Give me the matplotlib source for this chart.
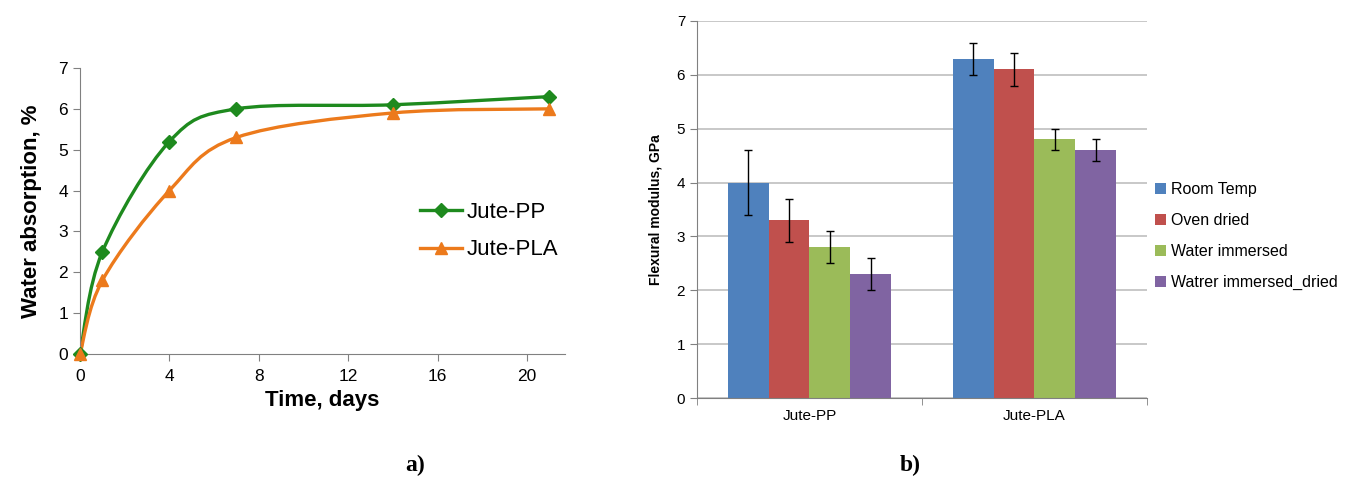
import numpy as np
import matplotlib
matplotlib.use('Agg')
import matplotlib.pyplot as plt
from matplotlib.path import Path
from matplotlib.patches import PathPatch
from matplotlib.lines import Line2D

plt.rcParams['font.family'] = ['Liberation Sans', 'DejaVu Sans']

# data - left chart (water absorption)
days = [0, 1, 4, 7, 14, 21]
jute_pp = [0, 2.5, 5.2, 6.0, 6.1, 6.3]
jute_pla = [0, 1.8, 4.0, 5.3, 5.9, 6.0]

# data - right chart (flexural modulus)
groups = ['Jute-PP', 'Jute-PLA']
conditions = ['Room Temp', 'Oven dried', 'Water immersed', 'Watrer immersed_dried']
modulus = [[4.0, 6.3], [3.3, 6.1], [2.8, 4.8], [2.3, 4.6]]
modulus_err = [[0.6, 0.3], [0.4, 0.3], [0.3, 0.2], [0.3, 0.2]]
bar_colors = ['#4F81BD', '#C0504D', '#9BBB59', '#8064A2']

green = '#1E8A1E'
orange = '#EC7A1C'


def smooth_path(x, y):
    # excel style smoothed line: cubic bezier through the points
    x = np.asarray(x, float)
    y = np.asarray(y, float)
    verts = [(x[0], y[0])]
    codes = [Path.MOVETO]
    n = len(x)
    for i in range(n - 1):
        i0 = max(i - 1, 0)
        i3 = min(i + 2, n - 1)
        c1 = (x[i] + (x[i + 1] - x[i0]) / 6, y[i] + (y[i + 1] - y[i0]) / 6)
        c2 = (x[i + 1] - (x[i3] - x[i]) / 6, y[i + 1] - (y[i3] - y[i]) / 6)
        verts += [c1, c2, (x[i + 1], y[i + 1])]
        codes += [Path.CURVE4] * 3
    return Path(verts, codes)


fig = plt.figure(figsize=(13.5, 4.8), dpi=100)

# ---- a) ----
ax1 = fig.add_axes([80 / 1350, 126 / 480, 485 / 1350, 286 / 480])
for yv, col, mk, lab in [(jute_pp, green, 'D', 'Jute-PP'), (jute_pla, orange, '^', 'Jute-PLA')]:
    ax1.add_patch(PathPatch(smooth_path(days, yv), fill=False, edgecolor=col, lw=2.4, zorder=2))
    ax1.plot(days, yv, ls='none', marker=mk, color=col, ms=7 if mk == 'D' else 8, zorder=3,
             clip_on=False)
ax1.set_xlim(0, 21.7)
ax1.set_ylim(0, 7)
ax1.set_xticks([0, 4, 8, 12, 16, 20])
ax1.set_yticks(range(8))
for s in ['top', 'right']:
    ax1.spines[s].set_visible(False)
for s in ['left', 'bottom']:
    ax1.spines[s].set_color('#808080')
ax1.tick_params(direction='out', length=5, color='#808080', labelsize=12.5)
ax1.tick_params(axis='x', pad=6)
ax1.set_xlabel('Time, days', fontsize=16, fontweight='bold', labelpad=4)
ax1.set_ylabel('Water absorption, %', fontsize=16, fontweight='bold', labelpad=12)
handles = [Line2D([], [], color=green, lw=2.4, marker='D', ms=7),
           Line2D([], [], color=orange, lw=2.4, marker='^', ms=8)]
ax1.legend(handles, ['Jute-PP', 'Jute-PLA'], loc='center left', bbox_to_anchor=(0.66, 0.43),
           frameon=False, fontsize=16, handlelength=1.9, handletextpad=0.2, labelspacing=0.75)

# ---- b) ----
ax2 = fig.add_axes([697 / 1350, 82 / 480, 450 / 1350, 377 / 480])
x = np.arange(len(groups))
w = 0.181
for i, cond in enumerate(conditions):
    ax2.bar(x + (i - 1.5) * w, modulus[i], w, color=bar_colors[i], label=cond,
            yerr=modulus_err[i], error_kw=dict(ecolor='black', elinewidth=1, capsize=3, capthick=1),
            zorder=2)
ax2.set_xlim(-0.5, 1.5)
ax2.set_ylim(0, 7)
ax2.set_yticks(range(8))
ax2.yaxis.grid(True, color='#BFBFBF', lw=1.2, zorder=0)
ax2.set_axisbelow(True)
ax2.set_xticks(x)
ax2.set_xticks([-0.5, 0.5, 1.5], minor=True)
ax2.set_xticklabels(groups)
ax2.tick_params(axis='x', which='major', length=0, labelsize=11, pad=8)
ax2.tick_params(axis='x', which='minor', length=5, color='#808080', direction='out')
ax2.tick_params(axis='y', length=5, color='#808080', direction='out', labelsize=11)
for s in ['top', 'right']:
    ax2.spines[s].set_visible(False)
for s in ['left', 'bottom']:
    ax2.spines[s].set_color('#808080')
ax2.set_ylabel('Flexural modulus, GPa', fontsize=10, fontweight='bold', labelpad=10)
ax2.legend(loc='center left', bbox_to_anchor=(1.0, 0.43), frameon=False, fontsize=11.5,
           handlelength=0.7, handleheight=0.7, handletextpad=0.3, labelspacing=1.0, borderaxespad=0.1)

fig.text(415 / 1350, 1 - 465 / 480, 'a)', fontsize=17, fontweight='bold',
         family='Liberation Serif', ha='center', va='center')
fig.text(910 / 1350, 1 - 465 / 480, 'b)', fontsize=17, fontweight='bold',
         family='Liberation Serif', ha='center', va='center')

fig.savefig('out.png', dpi=100)
